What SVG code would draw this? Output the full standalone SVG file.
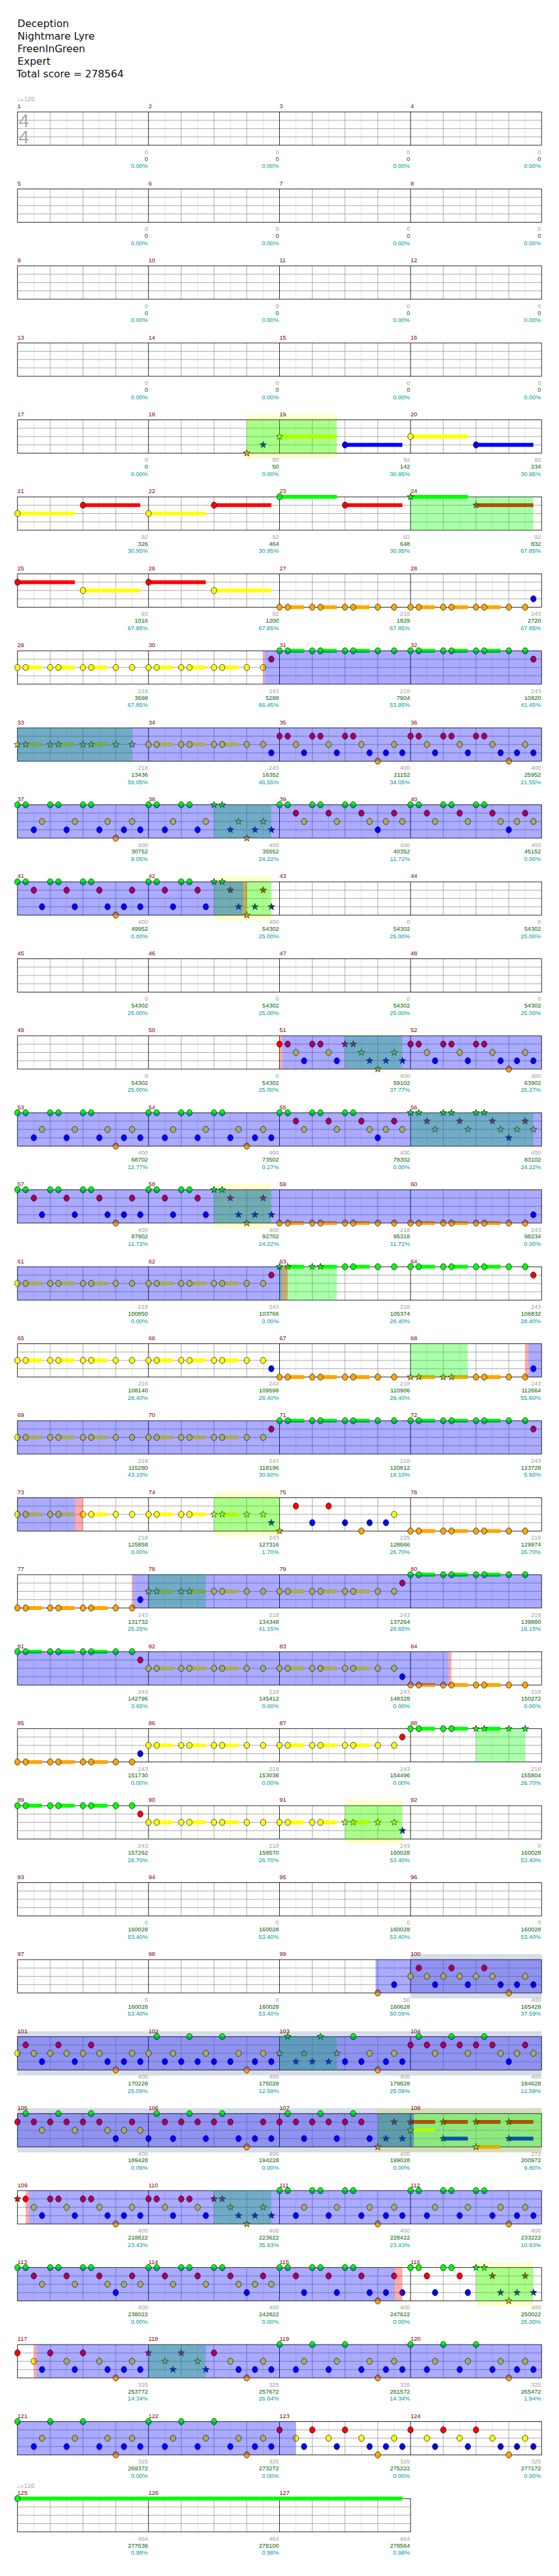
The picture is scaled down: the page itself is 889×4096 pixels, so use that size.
<svg xmlns="http://www.w3.org/2000/svg" width="889" height="4096" viewBox="0 0 889 4096">
<style>
.h{font-family:"DejaVu Sans",sans-serif;font-size:18.5px;fill:#111}
.t{font-family:"Liberation Sans",Arial,sans-serif;font-size:11px}
.n{fill:#800000}
.a{fill:#a0a0a0;text-anchor:end}
.s{fill:#006400;text-anchor:end}
.p{fill:#009999;text-anchor:end}
.sg{fill:#00ff00}.sr{fill:#ff0000}.sy{fill:#ffff00}.sb{fill:#0000ff}.so{fill:#ffa500}
.ob{fill:#0000ff;fill-opacity:.33}.og{fill:#00ff00;fill-opacity:.33}.op{fill:#ff0000;fill-opacity:.33}
.by{fill:#ffff00;fill-opacity:.2}.bg{fill:#32508c;fill-opacity:.2}
#c,#k{stroke:#000;stroke-width:.8}
</style>
<defs>
<ellipse id="c" rx="5" ry="5.75"/>
<path id="k" d="M0-6.5L1.5-2.1 6.2-2 2.5.8 3.8 5.3 0 2.6-3.8 5.3-2.5.8-6.2-2-1.5-2.1Z"/>
<use id="G" href="#c" y="205" fill="#00ff00"/>
<use id="R" href="#c" y="220.25" fill="#ff0000"/>
<use id="Y" href="#c" y="235.5" fill="#ffff00"/>
<use id="B" href="#c" y="250.75" fill="#0000ff"/>
<use id="O" href="#c" y="266" fill="#ffa500"/>
<use id="g" href="#k" y="205" fill="#00ff00"/>
<use id="r" href="#k" y="220.25" fill="#ff0000"/>
<use id="y" href="#k" y="235.5" fill="#ffff00"/>
<use id="b" href="#k" y="250.75" fill="#0000ff"/>
<use id="o" href="#k" y="266" fill="#ffa500"/>
<g id="M">
<path d="M30 205v61M90 205v61M150 205v61M210 205v61" stroke="#dddddd"/>
<path d="M0 220.25h240M0 235.5h240M0 250.75h240M60 205v61M120 205v61M180 205v61" stroke="#999999"/>
</g>
<g id="S4"><use href="#M" x="32"/><use href="#M" x="272"/><use href="#M" x="512"/><use href="#M" x="752"/><path d="M272 205v61M512 205v61M752 205v61" stroke="#000"/><rect x="32" y="205" width="960" height="61" fill="none" stroke="#000"/></g>
<g id="S3"><use href="#M" x="32"/><use href="#M" x="272"/><use href="#M" x="512"/><path d="M272 205v61M512 205v61" stroke="#000"/><rect x="32" y="205" width="720" height="61" fill="none" stroke="#000"/></g>
<g id="AY"><path class="sy" d="M15 232h30v7h-30zM75 232h30v7h-30zM135 232h30v7h-30z"/><use href="#Y"/><use href="#Y" x="15"/><use href="#Y" x="60"/><use href="#Y" x="75"/><use href="#Y" x="120"/><use href="#Y" x="135"/><use href="#Y" x="180"/><use href="#Y" x="210"/></g>
<g id="AG"><path class="sg" d="M15 201.5h30v7h-30zM75 201.5h30v7h-30zM135 201.5h30v7h-30z"/><use href="#G"/><use href="#G" x="15"/><use href="#G" x="60"/><use href="#G" x="75"/><use href="#G" x="120"/><use href="#G" x="135"/><use href="#G" x="180"/><use href="#G" x="210"/></g>
<g id="AO"><path class="so" d="M15 262.5h30v7h-30zM75 262.5h30v7h-30zM135 262.5h30v7h-30z"/><use href="#O"/><use href="#O" x="15"/><use href="#O" x="60"/><use href="#O" x="75"/><use href="#O" x="120"/><use href="#O" x="135"/><use href="#O" x="180"/><use href="#O" x="210"/></g>
<g id="D1"><use href="#R"/><use href="#R" x="15"/><use href="#Y" x="30"/><use href="#B" x="45"/><use href="#R" x="60"/><use href="#R" x="75"/><use href="#Y" x="90"/><use href="#B" x="105"/><use href="#R" x="120"/><use href="#R" x="135"/><use href="#Y" x="150"/><use href="#B" x="165"/><use href="#O" x="180"/><use href="#B" x="195"/><use href="#Y" x="210"/><use href="#B" x="225"/></g>
<g id="D2"><use href="#G"/><use href="#G" x="15"/><use href="#B" x="30"/><use href="#Y" x="45"/><use href="#G" x="60"/><use href="#G" x="75"/><use href="#B" x="90"/><use href="#Y" x="105"/><use href="#G" x="120"/><use href="#G" x="135"/><use href="#B" x="150"/><use href="#Y" x="165"/><use href="#O" x="180"/><use href="#B" x="195"/><use href="#Y" x="210"/><use href="#B" x="225"/></g>
<g id="D3"><use href="#G"/><use href="#G" x="15"/><use href="#R" x="30"/><use href="#Y" x="45"/><use href="#G" x="60"/><use href="#G" x="75"/><use href="#R" x="90"/><use href="#Y" x="105"/><use href="#G" x="120"/><use href="#G" x="135"/><use href="#R" x="150"/><use href="#Y" x="165"/><use href="#B" x="180"/><use href="#Y" x="195"/><use href="#R" x="210"/><use href="#Y" x="225"/></g>
<g id="D4"><use href="#G"/><use href="#G" x="15"/><use href="#R" x="30"/><use href="#B" x="45"/><use href="#G" x="60"/><use href="#G" x="75"/><use href="#R" x="90"/><use href="#B" x="105"/><use href="#G" x="120"/><use href="#G" x="135"/><use href="#R" x="150"/><use href="#B" x="165"/><use href="#O" x="180"/><use href="#B" x="195"/><use href="#R" x="210"/><use href="#B" x="225"/></g>
<g id="D5"><use href="#Y"/><use href="#R" x="15"/><use href="#Y" x="30"/><use href="#B" x="45"/><use href="#Y" x="60"/><use href="#R" x="75"/><use href="#Y" x="90"/><use href="#B" x="105"/><use href="#Y" x="120"/><use href="#R" x="135"/><use href="#Y" x="150"/><use href="#B" x="165"/><use href="#O" x="180"/><use href="#B" x="195"/><use href="#Y" x="210"/><use href="#B" x="225"/></g>
<g id="D6"><use href="#Y"/><use href="#G" x="15"/><use href="#B" x="30"/><use href="#Y" x="45"/><use href="#B" x="60"/><use href="#G" x="75"/><use href="#B" x="90"/><use href="#Y" x="105"/><use href="#B" x="120"/><use href="#G" x="135"/><use href="#B" x="150"/><use href="#Y" x="165"/><use href="#O" x="180"/><use href="#B" x="195"/><use href="#Y" x="210"/><use href="#B" x="225"/></g>
<g id="D7"><use href="#R"/><use href="#G" x="15"/><use href="#R" x="30"/><use href="#Y" x="45"/><use href="#R" x="60"/><use href="#G" x="75"/><use href="#R" x="90"/><use href="#Y" x="105"/><use href="#R" x="120"/><use href="#G" x="135"/><use href="#R" x="150"/><use href="#Y" x="165"/><use href="#B" x="180"/><use href="#Y" x="195"/><use href="#R" x="210"/><use href="#Y" x="225"/></g>
<g id="D8"><use href="#B"/><use href="#G" x="15"/><use href="#R" x="30"/><use href="#B" x="45"/><use href="#R" x="60"/><use href="#G" x="75"/><use href="#R" x="90"/><use href="#B" x="105"/><use href="#R" x="120"/><use href="#G" x="135"/><use href="#R" x="150"/><use href="#B" x="165"/><use href="#O" x="180"/><use href="#B" x="195"/><use href="#R" x="210"/><use href="#B" x="225"/></g>
<g id="D9"><use href="#R"/><use href="#Y" x="30"/><use href="#B" x="45"/><use href="#R" x="60"/><use href="#Y" x="90"/><use href="#B" x="105"/><use href="#R" x="120"/><use href="#Y" x="150"/><use href="#B" x="165"/><use href="#O" x="180"/><use href="#B" x="195"/><use href="#Y" x="210"/><use href="#B" x="225"/></g>
<g id="D10"><use href="#G"/><use href="#B" x="30"/><use href="#Y" x="45"/><use href="#G" x="60"/><use href="#B" x="90"/><use href="#Y" x="105"/><use href="#G" x="120"/><use href="#B" x="150"/><use href="#Y" x="165"/><use href="#O" x="180"/><use href="#B" x="195"/><use href="#Y" x="210"/><use href="#B" x="225"/></g>
</defs>
<g transform="scale(0.8682)">
<g id="title" class="h">
<text x="32" y="49">Deception</text>
<text x="32" y="72">Nightmare Lyre</text>
<text x="32" y="95.5">FreenInGreen</text>
<text x="32" y="118.5">Expert</text>
<text x="30" y="142">Total score = 278564</text>
</g>
<text x="31" y="186" font-family="DejaVu Sans,sans-serif" font-size="10" fill="#a0a0a0">♩=120</text>

<g id="row1"><use href="#S4"/>
<text x="34" y="233" font-family="Liberation Sans,sans-serif" font-size="35" fill="#aaaaaa">4</text><text x="34" y="263" font-family="Liberation Sans,sans-serif" font-size="35" fill="#aaaaaa">4</text>
<g class="t"><text class="n" y="198.5"><tspan x="32">1</tspan><tspan x="272">2</tspan><tspan x="512">3</tspan><tspan x="752">4</tspan></text>
<text class="a" y="282"><tspan x="271">0</tspan><tspan x="511">0</tspan><tspan x="751">0</tspan><tspan x="991">0</tspan></text>
<text class="s" y="294.5"><tspan x="271">0</tspan><tspan x="511">0</tspan><tspan x="751">0</tspan><tspan x="991">0</tspan></text>
<text class="p" y="308"><tspan x="271">0.00%</tspan><tspan x="511">0.00%</tspan><tspan x="751">0.00%</tspan><tspan x="991">0.00%</tspan></text></g></g>

<g id="row2" transform="translate(0,141)"><use href="#S4"/>
<g class="t"><text class="n" y="198.5"><tspan x="32">5</tspan><tspan x="272">6</tspan><tspan x="512">7</tspan><tspan x="752">8</tspan></text>
<text class="a" y="282"><tspan x="271">0</tspan><tspan x="511">0</tspan><tspan x="751">0</tspan><tspan x="991">0</tspan></text>
<text class="s" y="294.5"><tspan x="271">0</tspan><tspan x="511">0</tspan><tspan x="751">0</tspan><tspan x="991">0</tspan></text>
<text class="p" y="308"><tspan x="271">0.00%</tspan><tspan x="511">0.00%</tspan><tspan x="751">0.00%</tspan><tspan x="991">0.00%</tspan></text></g></g>

<g id="row3" transform="translate(0,282)"><use href="#S4"/>
<g class="t"><text class="n" y="198.5"><tspan x="32">9</tspan><tspan x="272">10</tspan><tspan x="512">11</tspan><tspan x="752">12</tspan></text>
<text class="a" y="282"><tspan x="271">0</tspan><tspan x="511">0</tspan><tspan x="751">0</tspan><tspan x="991">0</tspan></text>
<text class="s" y="294.5"><tspan x="271">0</tspan><tspan x="511">0</tspan><tspan x="751">0</tspan><tspan x="991">0</tspan></text>
<text class="p" y="308"><tspan x="271">0.00%</tspan><tspan x="511">0.00%</tspan><tspan x="751">0.00%</tspan><tspan x="991">0.00%</tspan></text></g></g>

<g id="row4" transform="translate(0,423)"><use href="#S4"/>
<g class="t"><text class="n" y="198.5"><tspan x="32">13</tspan><tspan x="272">14</tspan><tspan x="512">15</tspan><tspan x="752">16</tspan></text>
<text class="a" y="282"><tspan x="271">0</tspan><tspan x="511">0</tspan><tspan x="751">0</tspan><tspan x="991">0</tspan></text>
<text class="s" y="294.5"><tspan x="271">0</tspan><tspan x="511">0</tspan><tspan x="751">0</tspan><tspan x="991">0</tspan></text>
<text class="p" y="308"><tspan x="271">0.00%</tspan><tspan x="511">0.00%</tspan><tspan x="751">0.00%</tspan><tspan x="991">0.00%</tspan></text></g></g>

<g id="row5" transform="translate(0,564)">
<rect class="by" x="452" y="195" width="165" height="81"/>
<use href="#S4"/>
<path class="sy" d="M512 232h105v7h-105zM752 232h105v7h-105z"/><path class="sb" d="M632 247.25h105v7h-105zM872 247.25h105v7h-105z"/>
<use href="#o" x="452"/><use href="#b" x="482"/><use href="#y" x="512"/><use href="#B" x="632"/><use href="#Y" x="752"/><use href="#B" x="872"/>
<rect class="og" x="452" y="205" width="165" height="61"/>
<g class="t"><text class="n" y="198.5"><tspan x="32">17</tspan><tspan x="272">18</tspan><tspan x="512">19</tspan><tspan x="752">20</tspan></text>
<text class="a" y="282"><tspan x="271">0</tspan><tspan x="511">50</tspan><tspan x="751">92</tspan><tspan x="991">92</tspan></text>
<text class="s" y="294.5"><tspan x="271">0</tspan><tspan x="511">50</tspan><tspan x="751">142</tspan><tspan x="991">234</tspan></text>
<text class="p" y="308"><tspan x="271">0.00%</tspan><tspan x="511">0.00%</tspan><tspan x="751">30.95%</tspan><tspan x="991">30.95%</tspan></text></g></g>

<g id="row6" transform="translate(0,705)"><use href="#S4"/>
<path class="sy" d="M32 232h105v7h-105zM272 232h105v7h-105z"/><path class="sr" d="M152 216.75h105v7h-105zM392 216.75h105v7h-105zM632 216.75h105v7h-105zM872 216.75h105v7h-105z"/><path class="sg" d="M512 201.5h105v7h-105zM752 201.5h105v7h-105z"/>
<use href="#Y" x="32"/><use href="#R" x="152"/><use href="#Y" x="272"/><use href="#R" x="392"/><use href="#G" x="512"/><use href="#R" x="632"/><use href="#g" x="752"/><use href="#r" x="872"/>
<rect class="og" x="752" y="205" width="225" height="61"/>
<g class="t"><text class="n" y="198.5"><tspan x="32">21</tspan><tspan x="272">22</tspan><tspan x="512">23</tspan><tspan x="752">24</tspan></text>
<text class="a" y="282"><tspan x="271">92</tspan><tspan x="511">92</tspan><tspan x="751">92</tspan><tspan x="991">92</tspan></text>
<text class="s" y="294.5"><tspan x="271">326</tspan><tspan x="511">464</tspan><tspan x="751">648</tspan><tspan x="991">832</tspan></text>
<text class="p" y="308"><tspan x="271">30.95%</tspan><tspan x="511">30.95%</tspan><tspan x="751">30.95%</tspan><tspan x="991">67.85%</tspan></text></g></g>

<g id="row7" transform="translate(0,846)"><use href="#S4"/>
<path class="sr" d="M32 216.75h105v7h-105zM272 216.75h105v7h-105z"/><path class="sy" d="M152 232h105v7h-105zM392 232h105v7h-105z"/>
<use href="#R" x="32"/><use href="#Y" x="152"/><use href="#R" x="272"/><use href="#Y" x="392"/><use href="#AO" x="512"/><use href="#AO" x="752"/><use href="#B" x="977"/>
<g class="t"><text class="n" y="198.5"><tspan x="32">25</tspan><tspan x="272">26</tspan><tspan x="512">27</tspan><tspan x="752">28</tspan></text>
<text class="a" y="282"><tspan x="271">92</tspan><tspan x="511">92</tspan><tspan x="751">218</tspan><tspan x="991">243</tspan></text>
<text class="s" y="294.5"><tspan x="271">1016</tspan><tspan x="511">1200</tspan><tspan x="751">1829</tspan><tspan x="991">2720</tspan></text>
<text class="p" y="308"><tspan x="271">67.85%</tspan><tspan x="511">67.85%</tspan><tspan x="751">67.85%</tspan><tspan x="991">67.85%</tspan></text></g></g>

<g id="row8" transform="translate(0,987)"><use href="#S4"/>
<use href="#AY" x="32"/><use href="#AY" x="272"/><use href="#R" x="497"/><use href="#AG" x="512"/><use href="#AG" x="752"/><use href="#R" x="977"/>
<rect class="op" x="481.5" y="205" width="3" height="61"/><rect class="ob" x="484.5" y="205" width="507.5" height="61"/>
<g class="t"><text class="n" y="198.5"><tspan x="32">29</tspan><tspan x="272">30</tspan><tspan x="512">31</tspan><tspan x="752">32</tspan></text>
<text class="a" y="282"><tspan x="271">218</tspan><tspan x="511">243</tspan><tspan x="751">218</tspan><tspan x="991">243</tspan></text>
<text class="s" y="294.5"><tspan x="271">3698</tspan><tspan x="511">5288</tspan><tspan x="751">7904</tspan><tspan x="991">10820</tspan></text>
<text class="p" y="308"><tspan x="271">67.85%</tspan><tspan x="511">66.45%</tspan><tspan x="751">53.95%</tspan><tspan x="991">41.45%</tspan></text></g></g>

<g id="row9" transform="translate(0,1128)"><use href="#S4"/>
<path class="sy" d="M47 232h30v7h-30zM107 232h30v7h-30zM167 232h30v7h-30z"/>
<use href="#y" x="32"/><use href="#y" x="47"/><use href="#y" x="92"/><use href="#y" x="107"/><use href="#y" x="152"/><use href="#y" x="167"/><use href="#y" x="212"/><use href="#y" x="242"/>
<use href="#AY" x="272"/><use href="#B" x="497"/><use href="#D1" x="512"/><use href="#D1" x="752"/>
<rect class="og" x="32" y="205" width="210" height="61"/><rect class="ob" x="32" y="205" width="960" height="61"/>
<g class="t"><text class="n" y="198.5"><tspan x="32">33</tspan><tspan x="272">34</tspan><tspan x="512">35</tspan><tspan x="752">36</tspan></text>
<text class="a" y="282"><tspan x="271">218</tspan><tspan x="511">243</tspan><tspan x="751">400</tspan><tspan x="991">400</tspan></text>
<text class="s" y="294.5"><tspan x="271">13436</tspan><tspan x="511">16352</tspan><tspan x="751">21152</tspan><tspan x="991">25952</tspan></text>
<text class="p" y="308"><tspan x="271">59.05%</tspan><tspan x="511">46.55%</tspan><tspan x="751">34.05%</tspan><tspan x="991">21.55%</tspan></text></g></g>

<g id="row10" transform="translate(0,1269)"><use href="#S4"/>
<use href="#D2" x="32"/>
<use href="#G" x="272"/><use href="#G" x="287"/><use href="#B" x="302"/><use href="#Y" x="317"/><use href="#G" x="332"/><use href="#G" x="347"/><use href="#B" x="362"/><use href="#Y" x="377"/>
<use href="#g" x="392"/><use href="#g" x="407"/><use href="#b" x="422"/><use href="#y" x="437"/><use href="#o" x="452"/><use href="#b" x="467"/><use href="#y" x="482"/><use href="#b" x="497"/>
<use href="#D3" x="512"/><use href="#D3" x="752"/>
<rect class="og" x="392" y="205" width="105" height="61"/><rect class="ob" x="32" y="205" width="960" height="61"/>
<g class="t"><text class="n" y="198.5"><tspan x="32">37</tspan><tspan x="272">38</tspan><tspan x="512">39</tspan><tspan x="752">40</tspan></text>
<text class="a" y="282"><tspan x="271">400</tspan><tspan x="511">400</tspan><tspan x="751">400</tspan><tspan x="991">400</tspan></text>
<text class="s" y="294.5"><tspan x="271">30752</tspan><tspan x="511">35552</tspan><tspan x="751">40352</tspan><tspan x="991">45152</tspan></text>
<text class="p" y="308"><tspan x="271">9.05%</tspan><tspan x="511">24.22%</tspan><tspan x="751">11.72%</tspan><tspan x="991">0.00%</tspan></text></g></g>

<g id="row11" transform="translate(0,1410)">
<rect class="by" x="392" y="195" width="105" height="81"/>
<use href="#S4"/>
<use href="#D4" x="32"/>
<use href="#G" x="272"/><use href="#G" x="287"/><use href="#R" x="302"/><use href="#B" x="317"/><use href="#G" x="332"/><use href="#G" x="347"/><use href="#R" x="362"/><use href="#B" x="377"/>
<use href="#g" x="392"/><use href="#g" x="407"/><use href="#r" x="422"/><use href="#b" x="437"/><use href="#o" x="452"/><use href="#b" x="467"/><use href="#r" x="482"/><use href="#b" x="497"/>
<rect class="og" x="392" y="205" width="105" height="61"/><rect class="op" x="445" y="205" width="7" height="61"/><rect class="ob" x="32" y="205" width="413" height="61"/>
<g class="t"><text class="n" y="198.5"><tspan x="32">41</tspan><tspan x="272">42</tspan><tspan x="512">43</tspan><tspan x="752">44</tspan></text>
<text class="a" y="282"><tspan x="271">400</tspan><tspan x="511">400</tspan><tspan x="751">0</tspan><tspan x="991">0</tspan></text>
<text class="s" y="294.5"><tspan x="271">49952</tspan><tspan x="511">54302</tspan><tspan x="751">54302</tspan><tspan x="991">54302</tspan></text>
<text class="p" y="308"><tspan x="271">0.00%</tspan><tspan x="511">25.00%</tspan><tspan x="751">25.00%</tspan><tspan x="991">25.00%</tspan></text></g></g>

<g id="row12" transform="translate(0,1551)"><use href="#S4"/>
<g class="t"><text class="n" y="198.5"><tspan x="32">45</tspan><tspan x="272">46</tspan><tspan x="512">47</tspan><tspan x="752">48</tspan></text>
<text class="a" y="282"><tspan x="271">0</tspan><tspan x="511">0</tspan><tspan x="751">0</tspan><tspan x="991">0</tspan></text>
<text class="s" y="294.5"><tspan x="271">54302</tspan><tspan x="511">54302</tspan><tspan x="751">54302</tspan><tspan x="991">54302</tspan></text>
<text class="p" y="308"><tspan x="271">25.00%</tspan><tspan x="511">25.00%</tspan><tspan x="751">25.00%</tspan><tspan x="991">25.00%</tspan></text></g></g>

<g id="row13" transform="translate(0,1692)"><use href="#S4"/>
<use href="#R" x="512"/><use href="#R" x="527"/><use href="#Y" x="542"/><use href="#B" x="557"/><use href="#R" x="572"/><use href="#R" x="587"/><use href="#Y" x="602"/><use href="#B" x="617"/>
<use href="#r" x="632"/><use href="#r" x="647"/><use href="#y" x="662"/><use href="#b" x="677"/><use href="#o" x="692"/><use href="#b" x="707"/><use href="#y" x="722"/><use href="#b" x="737"/>
<use href="#D1" x="752"/>
<rect class="og" x="632" y="205" width="105" height="61"/><rect class="op" x="511.5" y="205" width="5.5" height="61"/><rect class="ob" x="517" y="205" width="475" height="61"/>
<g class="t"><text class="n" y="198.5"><tspan x="32">49</tspan><tspan x="272">50</tspan><tspan x="512">51</tspan><tspan x="752">52</tspan></text>
<text class="a" y="282"><tspan x="271">0</tspan><tspan x="511">0</tspan><tspan x="751">400</tspan><tspan x="991">400</tspan></text>
<text class="s" y="294.5"><tspan x="271">54302</tspan><tspan x="511">54302</tspan><tspan x="751">59102</tspan><tspan x="991">63902</tspan></text>
<text class="p" y="308"><tspan x="271">25.00%</tspan><tspan x="511">25.00%</tspan><tspan x="751">37.77%</tspan><tspan x="991">25.27%</tspan></text></g></g>

<g id="row14" transform="translate(0,1833)"><use href="#S4"/>
<use href="#D2" x="32"/><use href="#D2" x="272"/><use href="#D3" x="512"/>
<use href="#g" x="752"/><use href="#g" x="767"/><use href="#r" x="782"/><use href="#y" x="797"/><use href="#g" x="812"/><use href="#g" x="827"/><use href="#r" x="842"/><use href="#y" x="857"/><use href="#g" x="872"/><use href="#g" x="887"/><use href="#r" x="902"/><use href="#y" x="917"/><use href="#b" x="932"/><use href="#y" x="947"/><use href="#r" x="962"/><use href="#y" x="977"/>
<rect class="og" x="752" y="205" width="225" height="61"/><rect class="ob" x="32" y="205" width="960" height="61"/>
<g class="t"><text class="n" y="198.5"><tspan x="32">53</tspan><tspan x="272">54</tspan><tspan x="512">55</tspan><tspan x="752">56</tspan></text>
<text class="a" y="282"><tspan x="271">400</tspan><tspan x="511">400</tspan><tspan x="751">400</tspan><tspan x="991">400</tspan></text>
<text class="s" y="294.5"><tspan x="271">68702</tspan><tspan x="511">73502</tspan><tspan x="751">78302</tspan><tspan x="991">83102</tspan></text>
<text class="p" y="308"><tspan x="271">12.77%</tspan><tspan x="511">0.27%</tspan><tspan x="751">0.00%</tspan><tspan x="991">24.22%</tspan></text></g></g>

<g id="row15" transform="translate(0,1974)">
<rect class="by" x="392" y="195" width="105" height="81"/>
<use href="#S4"/>
<use href="#D4" x="32"/>
<use href="#G" x="272"/><use href="#G" x="287"/><use href="#R" x="302"/><use href="#B" x="317"/><use href="#G" x="332"/><use href="#G" x="347"/><use href="#R" x="362"/><use href="#B" x="377"/>
<use href="#g" x="392"/><use href="#g" x="407"/><use href="#r" x="422"/><use href="#b" x="437"/><use href="#o" x="452"/><use href="#b" x="467"/><use href="#r" x="482"/><use href="#b" x="497"/>
<use href="#AO" x="512"/><use href="#AO" x="752"/><use href="#B" x="977"/>
<rect class="og" x="392" y="205" width="105" height="61"/><rect class="ob" x="32" y="205" width="960" height="61"/>
<g class="t"><text class="n" y="198.5"><tspan x="32">57</tspan><tspan x="272">58</tspan><tspan x="512">59</tspan><tspan x="752">60</tspan></text>
<text class="a" y="282"><tspan x="271">400</tspan><tspan x="511">400</tspan><tspan x="751">218</tspan><tspan x="991">243</tspan></text>
<text class="s" y="294.5"><tspan x="271">87902</tspan><tspan x="511">92702</tspan><tspan x="751">95318</tspan><tspan x="991">98234</tspan></text>
<text class="p" y="308"><tspan x="271">11.72%</tspan><tspan x="511">24.22%</tspan><tspan x="751">11.72%</tspan><tspan x="991">0.00%</tspan></text></g></g>

<g id="row16" transform="translate(0,2115)"><use href="#S4"/>
<use href="#AY" x="32"/><use href="#AY" x="272"/><use href="#R" x="497"/>
<path class="sg" d="M527 201.5h30v7h-30zM587 201.5h30v7h-30zM647 201.5h30v7h-30z"/>
<use href="#g" x="512"/><use href="#g" x="527"/><use href="#g" x="572"/><use href="#g" x="587"/><use href="#G" x="632"/><use href="#G" x="647"/><use href="#G" x="692"/><use href="#G" x="722"/>
<use href="#AG" x="752"/><use href="#R" x="977"/>
<rect class="og" x="512" y="205" width="105" height="61"/><rect class="op" x="516" y="205" width="11" height="61"/><rect class="ob" x="32" y="205" width="484" height="61"/>
<g class="t"><text class="n" y="198.5"><tspan x="32">61</tspan><tspan x="272">62</tspan><tspan x="512">63</tspan><tspan x="752">64</tspan></text>
<text class="a" y="282"><tspan x="271">218</tspan><tspan x="511">243</tspan><tspan x="751">218</tspan><tspan x="991">243</tspan></text>
<text class="s" y="294.5"><tspan x="271">100850</tspan><tspan x="511">103766</tspan><tspan x="751">105374</tspan><tspan x="991">106832</tspan></text>
<text class="p" y="308"><tspan x="271">0.00%</tspan><tspan x="511">0.00%</tspan><tspan x="751">28.40%</tspan><tspan x="991">28.40%</tspan></text></g></g>

<g id="row17" transform="translate(0,2256)"><use href="#S4"/>
<use href="#AY" x="32"/><use href="#AY" x="272"/><use href="#B" x="497"/><use href="#AO" x="512"/>
<path class="so" d="M767 262.5h30v7h-30zM827 262.5h30v7h-30zM887 262.5h30v7h-30z"/>
<use href="#o" x="752"/><use href="#o" x="767"/><use href="#o" x="812"/><use href="#o" x="827"/><use href="#O" x="872"/><use href="#O" x="887"/><use href="#O" x="932"/><use href="#O" x="962"/><use href="#B" x="977"/>
<rect class="og" x="752" y="205" width="105" height="61"/><rect class="op" x="962" y="205" width="6" height="61"/><rect class="ob" x="968" y="205" width="24" height="61"/>
<g class="t"><text class="n" y="198.5"><tspan x="32">65</tspan><tspan x="272">66</tspan><tspan x="512">67</tspan><tspan x="752">68</tspan></text>
<text class="a" y="282"><tspan x="271">218</tspan><tspan x="511">243</tspan><tspan x="751">218</tspan><tspan x="991">243</tspan></text>
<text class="s" y="294.5"><tspan x="271">108140</tspan><tspan x="511">109598</tspan><tspan x="751">110906</tspan><tspan x="991">112664</tspan></text>
<text class="p" y="308"><tspan x="271">28.40%</tspan><tspan x="511">28.40%</tspan><tspan x="751">28.40%</tspan><tspan x="991">55.60%</tspan></text></g></g>

<g id="row18" transform="translate(0,2397)"><use href="#S4"/>
<use href="#AY" x="32"/><use href="#AY" x="272"/><use href="#R" x="497"/><use href="#AG" x="512"/><use href="#AG" x="752"/><use href="#R" x="977"/>
<rect class="ob" x="32" y="205" width="960" height="61"/>
<g class="t"><text class="n" y="198.5"><tspan x="32">69</tspan><tspan x="272">70</tspan><tspan x="512">71</tspan><tspan x="752">72</tspan></text>
<text class="a" y="282"><tspan x="271">218</tspan><tspan x="511">243</tspan><tspan x="751">218</tspan><tspan x="991">243</tspan></text>
<text class="s" y="294.5"><tspan x="271">115280</tspan><tspan x="511">118196</tspan><tspan x="751">120812</tspan><tspan x="991">123728</tspan></text>
<text class="p" y="308"><tspan x="271">43.10%</tspan><tspan x="511">30.60%</tspan><tspan x="751">18.10%</tspan><tspan x="991">5.60%</tspan></text></g></g>

<g id="row19" transform="translate(0,2538)">
<rect class="by" x="392" y="195" width="120" height="81"/>
<use href="#S4"/>
<use href="#AY" x="32"/>
<path class="sy" d="M287 232h30v7h-30zM347 232h30v7h-30zM407 232h30v7h-30z"/>
<use href="#Y" x="272"/><use href="#Y" x="287"/><use href="#Y" x="332"/><use href="#Y" x="347"/><use href="#y" x="392"/><use href="#y" x="407"/><use href="#y" x="452"/><use href="#y" x="482"/><use href="#b" x="497"/><use href="#o" x="512"/>
<use href="#R" x="542"/><use href="#B" x="572"/><use href="#R" x="602"/><use href="#B" x="632"/><use href="#O" x="662"/><use href="#B" x="677"/><use href="#B" x="707"/><use href="#Y" x="722"/>
<use href="#AO" x="752"/>
<rect class="og" x="392" y="205" width="120" height="61"/><rect class="op" x="138" y="205" width="14" height="61"/><rect class="ob" x="32" y="205" width="106" height="61"/>
<g class="t"><text class="n" y="198.5"><tspan x="32">73</tspan><tspan x="272">74</tspan><tspan x="512">75</tspan><tspan x="752">76</tspan></text>
<text class="a" y="282"><tspan x="271">218</tspan><tspan x="511">243</tspan><tspan x="751">225</tspan><tspan x="991">218</tspan></text>
<text class="s" y="294.5"><tspan x="271">125858</tspan><tspan x="511">127316</tspan><tspan x="751">128666</tspan><tspan x="991">129974</tspan></text>
<text class="p" y="308"><tspan x="271">0.00%</tspan><tspan x="511">1.70%</tspan><tspan x="751">26.70%</tspan><tspan x="991">26.70%</tspan></text></g></g>

<g id="row20" transform="translate(0,2679)"><use href="#S4"/>
<use href="#AO" x="32"/><use href="#B" x="257"/>
<path class="sy" d="M287 232h30v7h-30zM347 232h30v7h-30zM407 232h30v7h-30z"/>
<use href="#y" x="272"/><use href="#y" x="287"/><use href="#y" x="332"/><use href="#y" x="347"/><use href="#Y" x="392"/><use href="#Y" x="407"/><use href="#Y" x="452"/><use href="#Y" x="482"/>
<use href="#AY" x="512"/><use href="#R" x="737"/><use href="#AG" x="752"/>
<rect class="og" x="272" y="205" width="105" height="61"/><rect class="op" x="241.5" y="205" width="2.5" height="61"/><rect class="ob" x="244" y="205" width="748" height="61"/>
<g class="t"><text class="n" y="198.5"><tspan x="32">77</tspan><tspan x="272">78</tspan><tspan x="512">79</tspan><tspan x="752">80</tspan></text>
<text class="a" y="282"><tspan x="271">243</tspan><tspan x="511">218</tspan><tspan x="751">243</tspan><tspan x="991">218</tspan></text>
<text class="s" y="294.5"><tspan x="271">131732</tspan><tspan x="511">134348</tspan><tspan x="751">137264</tspan><tspan x="991">139880</tspan></text>
<text class="p" y="308"><tspan x="271">25.25%</tspan><tspan x="511">41.15%</tspan><tspan x="751">28.65%</tspan><tspan x="991">16.15%</tspan></text></g></g>

<g id="row21" transform="translate(0,2820)"><use href="#S4"/>
<use href="#AG" x="32"/><use href="#R" x="257"/><use href="#AY" x="272"/><use href="#AY" x="512"/><use href="#B" x="737"/><use href="#AO" x="752"/>
<rect class="ob" x="32" y="205" width="790" height="61"/><rect class="op" x="822" y="205" width="5" height="61"/>
<g class="t"><text class="n" y="198.5"><tspan x="32">81</tspan><tspan x="272">82</tspan><tspan x="512">83</tspan><tspan x="752">84</tspan></text>
<text class="a" y="282"><tspan x="271">243</tspan><tspan x="511">218</tspan><tspan x="751">243</tspan><tspan x="991">218</tspan></text>
<text class="s" y="294.5"><tspan x="271">142796</tspan><tspan x="511">145412</tspan><tspan x="751">148328</tspan><tspan x="991">150272</tspan></text>
<text class="p" y="308"><tspan x="271">3.65%</tspan><tspan x="511">0.00%</tspan><tspan x="751">0.00%</tspan><tspan x="991">0.00%</tspan></text></g></g>

<g id="row22" transform="translate(0,2961)"><use href="#S4"/>
<use href="#AO" x="32"/><use href="#B" x="257"/><use href="#AY" x="272"/><use href="#AY" x="512"/><use href="#R" x="737"/>
<path class="sg" d="M767 201.5h30v7h-30zM827 201.5h30v7h-30zM887 201.5h30v7h-30z"/>
<use href="#G" x="752"/><use href="#G" x="767"/><use href="#G" x="812"/><use href="#G" x="827"/><use href="#g" x="872"/><use href="#g" x="887"/><use href="#g" x="932"/><use href="#g" x="962"/>
<rect class="og" x="872" y="205" width="90" height="61"/>
<g class="t"><text class="n" y="198.5"><tspan x="32">85</tspan><tspan x="272">86</tspan><tspan x="512">87</tspan><tspan x="752">88</tspan></text>
<text class="a" y="282"><tspan x="271">243</tspan><tspan x="511">218</tspan><tspan x="751">243</tspan><tspan x="991">218</tspan></text>
<text class="s" y="294.5"><tspan x="271">151730</tspan><tspan x="511">153038</tspan><tspan x="751">154496</tspan><tspan x="991">155804</tspan></text>
<text class="p" y="308"><tspan x="271">0.00%</tspan><tspan x="511">0.00%</tspan><tspan x="751">0.00%</tspan><tspan x="991">26.70%</tspan></text></g></g>

<g id="row23" transform="translate(0,3102)">
<rect class="by" x="632" y="195" width="105" height="81"/>
<use href="#S4"/>
<use href="#AG" x="32"/><use href="#R" x="257"/><use href="#AY" x="272"/>
<path class="sy" d="M527 232h30v7h-30zM587 232h30v7h-30zM647 232h30v7h-30z"/>
<use href="#Y" x="512"/><use href="#Y" x="527"/><use href="#Y" x="572"/><use href="#Y" x="587"/><use href="#y" x="632"/><use href="#y" x="647"/><use href="#y" x="692"/><use href="#y" x="722"/><use href="#b" x="737"/>
<rect class="og" x="632" y="205" width="105" height="61"/>
<g class="t"><text class="n" y="198.5"><tspan x="32">89</tspan><tspan x="272">90</tspan><tspan x="512">91</tspan><tspan x="752">92</tspan></text>
<text class="a" y="282"><tspan x="271">243</tspan><tspan x="511">218</tspan><tspan x="751">243</tspan><tspan x="991">0</tspan></text>
<text class="s" y="294.5"><tspan x="271">157262</tspan><tspan x="511">158570</tspan><tspan x="751">160028</tspan><tspan x="991">160028</tspan></text>
<text class="p" y="308"><tspan x="271">26.70%</tspan><tspan x="511">26.70%</tspan><tspan x="751">53.40%</tspan><tspan x="991">53.40%</tspan></text></g></g>

<g id="row24" transform="translate(0,3243)"><use href="#S4"/>
<g class="t"><text class="n" y="198.5"><tspan x="32">93</tspan><tspan x="272">94</tspan><tspan x="512">95</tspan><tspan x="752">96</tspan></text>
<text class="a" y="282"><tspan x="271">0</tspan><tspan x="511">0</tspan><tspan x="751">0</tspan><tspan x="991">0</tspan></text>
<text class="s" y="294.5"><tspan x="271">160028</tspan><tspan x="511">160028</tspan><tspan x="751">160028</tspan><tspan x="991">160028</tspan></text>
<text class="p" y="308"><tspan x="271">53.40%</tspan><tspan x="511">53.40%</tspan><tspan x="751">53.40%</tspan><tspan x="991">53.40%</tspan></text></g></g>

<g id="row25" transform="translate(0,3384)">
<rect class="bg" x="752" y="195" width="240" height="81"/>
<use href="#S4"/>
<use href="#O" x="692"/><use href="#B" x="722"/><use href="#D5" x="752"/>
<rect class="ob" x="688" y="205" width="304" height="61"/>
<g class="t"><text class="n" y="198.5"><tspan x="32">97</tspan><tspan x="272">98</tspan><tspan x="512">99</tspan><tspan x="752">100</tspan></text>
<text class="a" y="282"><tspan x="271">0</tspan><tspan x="511">0</tspan><tspan x="751">50</tspan><tspan x="991">400</tspan></text>
<text class="s" y="294.5"><tspan x="271">160028</tspan><tspan x="511">160028</tspan><tspan x="751">160628</tspan><tspan x="991">165428</tspan></text>
<text class="p" y="308"><tspan x="271">53.40%</tspan><tspan x="511">53.40%</tspan><tspan x="751">50.09%</tspan><tspan x="991">37.59%</tspan></text></g></g>

<g id="row26" transform="translate(0,3525)">
<rect class="bg" x="32" y="195" width="960" height="81"/>
<use href="#S4"/>
<use href="#D5" x="32"/><use href="#D6" x="272"/>
<use href="#y" x="512"/><use href="#g" x="527"/><use href="#b" x="542"/><use href="#y" x="557"/><use href="#b" x="572"/><use href="#g" x="587"/><use href="#b" x="602"/><use href="#y" x="617"/>
<use href="#B" x="632"/><use href="#G" x="647"/><use href="#B" x="662"/><use href="#Y" x="677"/><use href="#O" x="692"/><use href="#B" x="707"/><use href="#Y" x="722"/><use href="#B" x="737"/>
<use href="#D7" x="752"/>
<rect class="og" x="512" y="205" width="105" height="61"/><rect class="ob" x="32" y="205" width="960" height="61"/>
<g class="t"><text class="n" y="198.5"><tspan x="32">101</tspan><tspan x="272">102</tspan><tspan x="512">103</tspan><tspan x="752">104</tspan></text>
<text class="a" y="282"><tspan x="271">400</tspan><tspan x="511">400</tspan><tspan x="751">400</tspan><tspan x="991">400</tspan></text>
<text class="s" y="294.5"><tspan x="271">170228</tspan><tspan x="511">175028</tspan><tspan x="751">179828</tspan><tspan x="991">184628</tspan></text>
<text class="p" y="308"><tspan x="271">25.09%</tspan><tspan x="511">12.59%</tspan><tspan x="751">25.09%</tspan><tspan x="991">12.59%</tspan></text></g></g>

<g id="row27" transform="translate(0,3666)">
<rect class="by" x="692" y="195" width="300" height="81"/><rect class="bg" x="32" y="195" width="960" height="81"/>
<use href="#S4"/>
<use href="#D7" x="32"/><use href="#D8" x="272"/>
<use href="#R" x="512"/><use href="#G" x="527"/><use href="#R" x="542"/><use href="#B" x="557"/><use href="#R" x="572"/><use href="#G" x="587"/><use href="#R" x="602"/><use href="#B" x="617"/><use href="#R" x="632"/><use href="#G" x="647"/><use href="#R" x="662"/><use href="#B" x="677"/>
<use href="#o" x="692"/><use href="#b" x="707"/><use href="#r" x="722"/><use href="#b" x="737"/>
<path class="sr" d="M752 216.75h45v7h-45zM812 216.75h45v7h-45zM872 216.75h45v7h-45zM932 216.75h45v7h-45z"/><path class="sy" d="M752 232h45v7h-45z"/><path class="sb" d="M812 247.25h45v7h-45zM932 247.25h45v7h-45z"/><path class="so" d="M872 262.5h45v7h-45z"/>
<use href="#r" x="752"/><use href="#y" x="752"/><use href="#r" x="812"/><use href="#b" x="812"/><use href="#r" x="872"/><use href="#o" x="872"/><use href="#r" x="932"/><use href="#b" x="932"/>
<rect class="og" x="692" y="205" width="300" height="61"/><rect class="ob" x="32" y="205" width="726" height="61"/>
<g class="t"><text class="n" y="198.5"><tspan x="32">105</tspan><tspan x="272">106</tspan><tspan x="512">107</tspan><tspan x="752">108</tspan></text>
<text class="a" y="282"><tspan x="271">400</tspan><tspan x="511">400</tspan><tspan x="751">400</tspan><tspan x="991">272</tspan></text>
<text class="s" y="294.5"><tspan x="271">189428</tspan><tspan x="511">194228</tspan><tspan x="751">199028</tspan><tspan x="991">200972</tspan></text>
<text class="p" y="308"><tspan x="271">0.09%</tspan><tspan x="511">0.00%</tspan><tspan x="751">0.00%</tspan><tspan x="991">9.80%</tspan></text></g></g>

<g id="row28" transform="translate(0,3807)"><use href="#S4"/>
<use href="#r" x="32"/><use href="#R" x="47"/><use href="#Y" x="62"/><use href="#B" x="77"/><use href="#R" x="92"/><use href="#R" x="107"/><use href="#Y" x="122"/><use href="#B" x="137"/><use href="#R" x="152"/><use href="#R" x="167"/><use href="#Y" x="182"/><use href="#B" x="197"/><use href="#O" x="212"/><use href="#B" x="227"/><use href="#Y" x="242"/><use href="#B" x="257"/>
<use href="#R" x="272"/><use href="#R" x="287"/><use href="#Y" x="302"/><use href="#B" x="317"/><use href="#R" x="332"/><use href="#R" x="347"/><use href="#Y" x="362"/><use href="#B" x="377"/>
<use href="#r" x="392"/><use href="#r" x="407"/><use href="#y" x="422"/><use href="#b" x="437"/><use href="#o" x="452"/><use href="#b" x="467"/><use href="#y" x="482"/><use href="#b" x="497"/>
<use href="#D2" x="512"/><use href="#D2" x="752"/>
<rect class="og" x="392" y="205" width="105" height="61"/><rect class="op" x="47" y="205" width="6" height="61"/><rect class="ob" x="53" y="205" width="939" height="61"/>
<g class="t"><text class="n" y="198.5"><tspan x="32">109</tspan><tspan x="272">110</tspan><tspan x="512">111</tspan><tspan x="752">112</tspan></text>
<text class="a" y="282"><tspan x="271">400</tspan><tspan x="511">400</tspan><tspan x="751">400</tspan><tspan x="991">400</tspan></text>
<text class="s" y="294.5"><tspan x="271">218822</tspan><tspan x="511">223622</tspan><tspan x="751">228422</tspan><tspan x="991">233222</tspan></text>
<text class="p" y="308"><tspan x="271">23.43%</tspan><tspan x="511">35.93%</tspan><tspan x="751">23.43%</tspan><tspan x="991">10.93%</tspan></text></g></g>

<g id="row29" transform="translate(0,3948)">
<rect class="by" x="872" y="195" width="105" height="81"/>
<use href="#S4"/>
<use href="#D3" x="32"/><use href="#D3" x="272"/><use href="#D4" x="512"/>
<use href="#G" x="752"/><use href="#G" x="767"/><use href="#R" x="782"/><use href="#B" x="797"/><use href="#G" x="812"/><use href="#G" x="827"/><use href="#R" x="842"/><use href="#B" x="857"/>
<use href="#g" x="872"/><use href="#g" x="887"/><use href="#r" x="902"/><use href="#b" x="917"/><use href="#o" x="932"/><use href="#b" x="947"/><use href="#r" x="962"/><use href="#b" x="977"/>
<rect class="og" x="872" y="205" width="105" height="61"/><rect class="ob" x="32" y="205" width="691" height="61"/><rect class="op" x="723" y="205" width="14" height="61"/>
<g class="t"><text class="n" y="198.5"><tspan x="32">113</tspan><tspan x="272">114</tspan><tspan x="512">115</tspan><tspan x="752">116</tspan></text>
<text class="a" y="282"><tspan x="271">400</tspan><tspan x="511">400</tspan><tspan x="751">400</tspan><tspan x="991">400</tspan></text>
<text class="s" y="294.5"><tspan x="271">238022</tspan><tspan x="511">242822</tspan><tspan x="751">247622</tspan><tspan x="991">250022</tspan></text>
<text class="p" y="308"><tspan x="271">0.00%</tspan><tspan x="511">0.00%</tspan><tspan x="751">0.00%</tspan><tspan x="991">25.00%</tspan></text></g></g>

<g id="row30" transform="translate(0,4089)"><use href="#S4"/>
<use href="#D9" x="32"/>
<use href="#r" x="272"/><use href="#y" x="302"/><use href="#b" x="317"/><use href="#r" x="332"/><use href="#y" x="362"/><use href="#b" x="377"/>
<use href="#R" x="392"/><use href="#Y" x="422"/><use href="#B" x="437"/><use href="#O" x="452"/><use href="#B" x="467"/><use href="#Y" x="482"/><use href="#B" x="497"/>
<use href="#D10" x="512"/><use href="#D10" x="752"/>
<rect class="og" x="272" y="205" width="105" height="61"/><rect class="op" x="62" y="205" width="5" height="61"/><rect class="ob" x="67" y="205" width="925" height="61"/>
<g class="t"><text class="n" y="198.5"><tspan x="32">117</tspan><tspan x="272">118</tspan><tspan x="512">119</tspan><tspan x="752">120</tspan></text>
<text class="a" y="282"><tspan x="271">325</tspan><tspan x="511">325</tspan><tspan x="751">325</tspan><tspan x="991">325</tspan></text>
<text class="s" y="294.5"><tspan x="271">253772</tspan><tspan x="511">257672</tspan><tspan x="751">261572</tspan><tspan x="991">265472</tspan></text>
<text class="p" y="308"><tspan x="271">14.34%</tspan><tspan x="511">26.84%</tspan><tspan x="751">14.34%</tspan><tspan x="991">1.84%</tspan></text></g></g>

<g id="row31" transform="translate(0,4230)"><use href="#S4"/>
<use href="#D10" x="32"/><use href="#D10" x="272"/><use href="#D9" x="512"/><use href="#D9" x="752"/>
<rect class="ob" x="32" y="205" width="510" height="61"/>
<g class="t"><text class="n" y="198.5"><tspan x="32">121</tspan><tspan x="272">122</tspan><tspan x="512">123</tspan><tspan x="752">124</tspan></text>
<text class="a" y="282"><tspan x="271">325</tspan><tspan x="511">325</tspan><tspan x="751">325</tspan><tspan x="991">325</tspan></text>
<text class="s" y="294.5"><tspan x="271">269372</tspan><tspan x="511">273272</tspan><tspan x="751">275222</tspan><tspan x="991">277172</tspan></text>
<text class="p" y="308"><tspan x="271">0.00%</tspan><tspan x="511">0.00%</tspan><tspan x="751">0.00%</tspan><tspan x="991">0.00%</tspan></text></g></g>

<g id="row32" transform="translate(0,4371)">
<text x="31" y="186" font-family="DejaVu Sans,sans-serif" font-size="10" fill="#a0a0a0">♩=120</text>
<use href="#S3"/>
<path class="sg" d="M32 201.5h705v7h-705z"/><use href="#G" x="32"/>
<g class="t"><text class="n" y="198.5"><tspan x="32">125</tspan><tspan x="272">126</tspan><tspan x="512">127</tspan></text>
<text class="a" y="282"><tspan x="271">464</tspan><tspan x="511">464</tspan><tspan x="751">464</tspan></text>
<text class="s" y="294.5"><tspan x="271">277636</tspan><tspan x="511">278100</tspan><tspan x="751">278564</tspan></text>
<text class="p" y="308"><tspan x="271">0.98%</tspan><tspan x="511">0.98%</tspan><tspan x="751">0.98%</tspan></text></g></g>
</g>
</svg>
